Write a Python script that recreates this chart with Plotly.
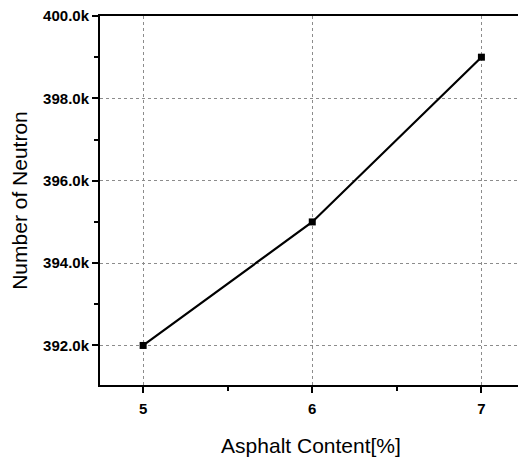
import plotly.graph_objects as go

asphalt_content = [5, 6, 7]
neutron_count = [392000, 395000, 399000]
y_tick_values = [392000, 394000, 396000, 398000, 400000]
y_tick_labels = ["392.0k", "394.0k", "396.0k", "398.0k", "400.0k"]
x_tick_values = [5, 6, 7]
x_tick_labels = ["5", "6", "7"]

fig = go.Figure()
fig.add_trace(go.Scatter(
    x=asphalt_content, y=neutron_count, mode="lines+markers",
    line=dict(color="black", width=2.2),
    marker=dict(symbol="square", size=7, color="black"),
    showlegend=False, cliponaxis=False,
))

axis_common = dict(
    showline=True, linecolor="black", linewidth=2, mirror=True,
    ticks="outside", tickcolor="black", tickwidth=2, ticklen=6,
    showgrid=True, gridcolor="#8c8c8c", griddash="dot", gridwidth=1,
    zeroline=False, automargin=False, ticklabeloverflow="allow",
    tickfont=dict(family="Liberation Sans, Arial", size=15, color="black", weight="bold"),
    title_font=dict(family="Liberation Sans, Arial", size=21, color="black"),
    minor=dict(ticks="outside", ticklen=4, tickcolor="black", tickwidth=2, showgrid=False),
)

fig.update_xaxes(
    **axis_common,
    range=[4.745, 7.24],
    tickvals=x_tick_values, ticktext=x_tick_labels,
    title_text="Asphalt Content[%]", title_standoff=22,
    ticklabelstandoff=3,
)
fig.update_xaxes(minor_dtick=0.5, minor_tick0=5)
fig.update_yaxes(
    **axis_common,
    range=[391040, 400000],
    tickvals=y_tick_values, ticktext=y_tick_labels,
    title_text="Number of Neutron", title_standoff=14,
)
fig.update_yaxes(minor_dtick=1000, minor_tick0=391000)

fig.update_layout(
    width=526, height=459,
    margin=dict(l=92, r=12, t=8, b=82),
    paper_bgcolor="white", plot_bgcolor="white",
)

fig.write_html("out.html")
